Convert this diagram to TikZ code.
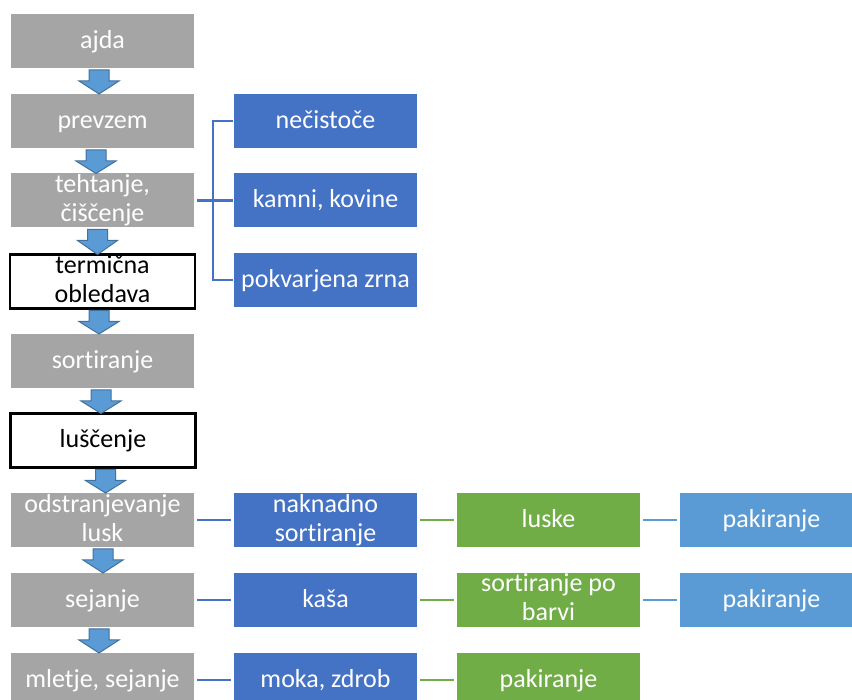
\documentclass[tikz,border=0pt]{standalone}
\usepackage{fontspec}
\setmainfont[Ligatures={NoCommon}]{Carlito}
\usetikzlibrary{calc}
\definecolor{cgray}{HTML}{A5A5A5}
\definecolor{cblue}{HTML}{4472C4}
\definecolor{cgreen}{HTML}{70AD47}
\definecolor{clblue}{HTML}{5B9BD5}
\definecolor{carrowline}{HTML}{41719C}
\newcommand\flowarrow[3]{%
  \draw[barrow] let \p1=(#1.south), \p2=(#2.north) in
    ({\x1+#3pt-10pt},{\y1-2pt}) -- ({\x1+#3pt+10pt},{\y1-2pt}) --
    ({\x1+#3pt+10pt},{\y1-13pt}) -- ({\x1+#3pt+20pt},{\y1-13pt}) --
    ({\x1+#3pt},{\y2}) -- ({\x1+#3pt-20pt},{\y1-13pt}) --
    ({\x1+#3pt-10pt},{\y1-13pt}) -- cycle;}
\newcommand\boxstrut{\rule[-5pt]{0pt}{25pt}}
\begin{document}
\begin{tikzpicture}[x=1pt,y=1pt,
  box/.style={minimum width=183pt, minimum height=54pt, inner sep=0pt, outer sep=0pt,
    align=center, text=white, font=\fontsize{26}{29}\selectfont,
    execute at begin node=\boxstrut, execute at end node=\boxstrut},
  gbox/.style={box, fill=cgray},
  wbox/.style={box, fill=white, draw=black, line width=2.5pt, text=black,
    minimum width=185pt, minimum height=54pt},
  bbox/.style={box, fill=cblue},
  grbox/.style={box, fill=cgreen},
  lbbox/.style={box, fill=clblue},
  barrow/.style={fill=clblue, draw=carrowline, line width=1pt, line join=miter},
  bline/.style={draw=cblue, line width=2.5pt},
  gline/.style={draw=cgreen, line width=2.5pt},
  lline/.style={draw=clblue, line width=2.5pt},
  gap/.style={shorten <=3pt, shorten >=3pt}]
\useasboundingbox (0,0) rectangle (852,700);
\clip (0,0) rectangle (852,700);
% main column
\node[gbox] (ajda) at (102.5,659) {ajda};
\node[gbox] (prev) at (102.5,579) {prevzem};
\node[gbox] (teh) at (102.5,499.5) {tehtanje,\\čiščenje};
\node[wbox] (ter) at (102.5,418.5) {termična\\obledava};
\node[gbox] (sort) at (102.5,339) {sortiranje};
\node[wbox] (lus) at (103,259.5) {luščenje};
\node[gbox] (odst) at (102.5,180) {odstranjevanje\\lusk};
\node[gbox] (sej) at (102.5,100) {sejanje};
\node[gbox] (mlet) at (102.5,20) {mletje, sejanje};
% blue column
\node[bbox] (nec) at (325.5,579) {nečistoče};
\node[bbox] (kam) at (325.5,499.5) {kamni, kovine};
\node[bbox] (pok) at (325.5,420) {pokvarjena zrna};
\node[bbox] (nak) at (325.5,180) {naknadno\\sortiranje};
\node[bbox] (kasa) at (325.5,100) {kaša};
\node[bbox] (moka) at (325.5,20) {moka, zdrob};
% green column
\node[grbox] (luske) at (548.5,180) {luske};
\node[grbox] (sorb) at (548.5,100) {sortiranje po\\barvi};
\node[grbox] (pakc) at (548.5,20) {pakiranje};
% light blue column
\node[lbbox] (paka) at (771.5,180) {pakiranje};
\node[lbbox] (pakb) at (771.5,100) {pakiranje};
% arrows
\flowarrow{ajda}{prev}{-3.5}
\flowarrow{prev}{teh}{-6.5}
\flowarrow{teh}{ter}{-5}
\flowarrow{ter}{sort}{-3.5}
\flowarrow{sort}{lus}{-1.5}
\flowarrow{lus}{odst}{2.5}
\flowarrow{odst}{sej}{0.5}
\flowarrow{sej}{mlet}{-3.5}
% bracket
\coordinate (br) at (213,499.5);
\draw[bline, shorten <=3pt] (teh.east) -- (br);
\draw[bline, shorten <=1pt, shorten >=1pt] (nec.west) -| (br) |- (pok.west);
\draw[bline, shorten >=1pt] (br) -- (kam.west);
% row connectors
\draw[bline, gap] (odst) -- (nak);
\draw[bline, gap] (sej) -- (kasa);
\draw[bline, gap] (mlet) -- (moka);
\draw[gline, gap] (nak) -- (luske);
\draw[gline, gap] (kasa) -- (sorb);
\draw[gline, gap] (moka) -- (pakc);
\draw[lline, gap] (luske) -- (paka);
\draw[lline, gap] (sorb) -- (pakb);
\end{tikzpicture}
\end{document}
